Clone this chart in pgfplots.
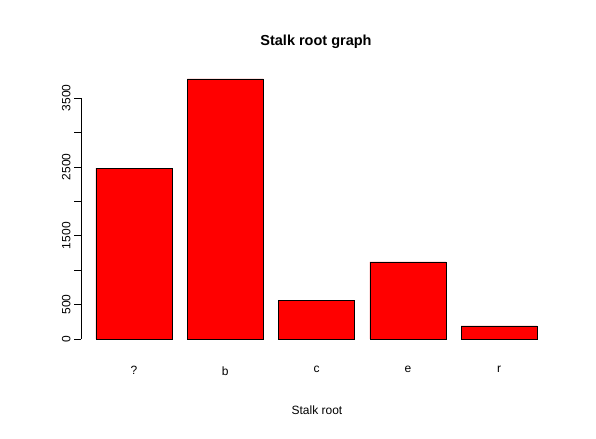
\documentclass[border=0pt]{standalone}
\usepackage{pgfplots}
\pgfplotsset{compat=1.18}
\usepackage{fontspec}
\setmainfont{Liberation Sans}
\begin{document}
\begin{tikzpicture}
\path[fill=white] (0,0) rectangle (596bp,439bp);
\begin{axis}[
  at={(81bp,100bp)}, anchor=south west,
  scale only axis, width=473bp, height=268.7bp,
  xmin=-0.58, xmax=4.6, ymin=0, ymax=3900,
  axis line style={draw=none},
  xtick={0,1,2,3,4}, xticklabels={?,b,c,e,r},
  xtick style={draw=none},
  xticklabel style={yshift=-17bp, font=\fontsize{12bp}{14bp}\selectfont},
  ytick={0,500,...,3500},
  yticklabels={0,500,,1500,,2500,,3500},
  ytick pos=left,
  ytick style={black, thin},
  tick align=outside, major tick length=7bp,
  yticklabel style={rotate=90, anchor=south, font=\fontsize{12bp}{14bp}\selectfont},
  tick label style={/pgf/number format/assume math mode=true},
  clip=false,
]
\draw[black, thin] (axis cs:-0.58,0) -- (axis cs:-0.58,3500);
\addplot[ybar, bar width=76bp, fill=red, draw=black, thin] coordinates {(0,2480) (1,3776) (2,556) (3,1120) (4,192)};
\end{axis}
\node[font=\bfseries\fontsize{14.5bp}{17bp}\selectfont] at (316bp,397bp) {Stalk root graph};
\node[font=\fontsize{12bp}{14bp}\selectfont] at (317bp,29bp) {Stalk root};
\end{tikzpicture}
\end{document}
